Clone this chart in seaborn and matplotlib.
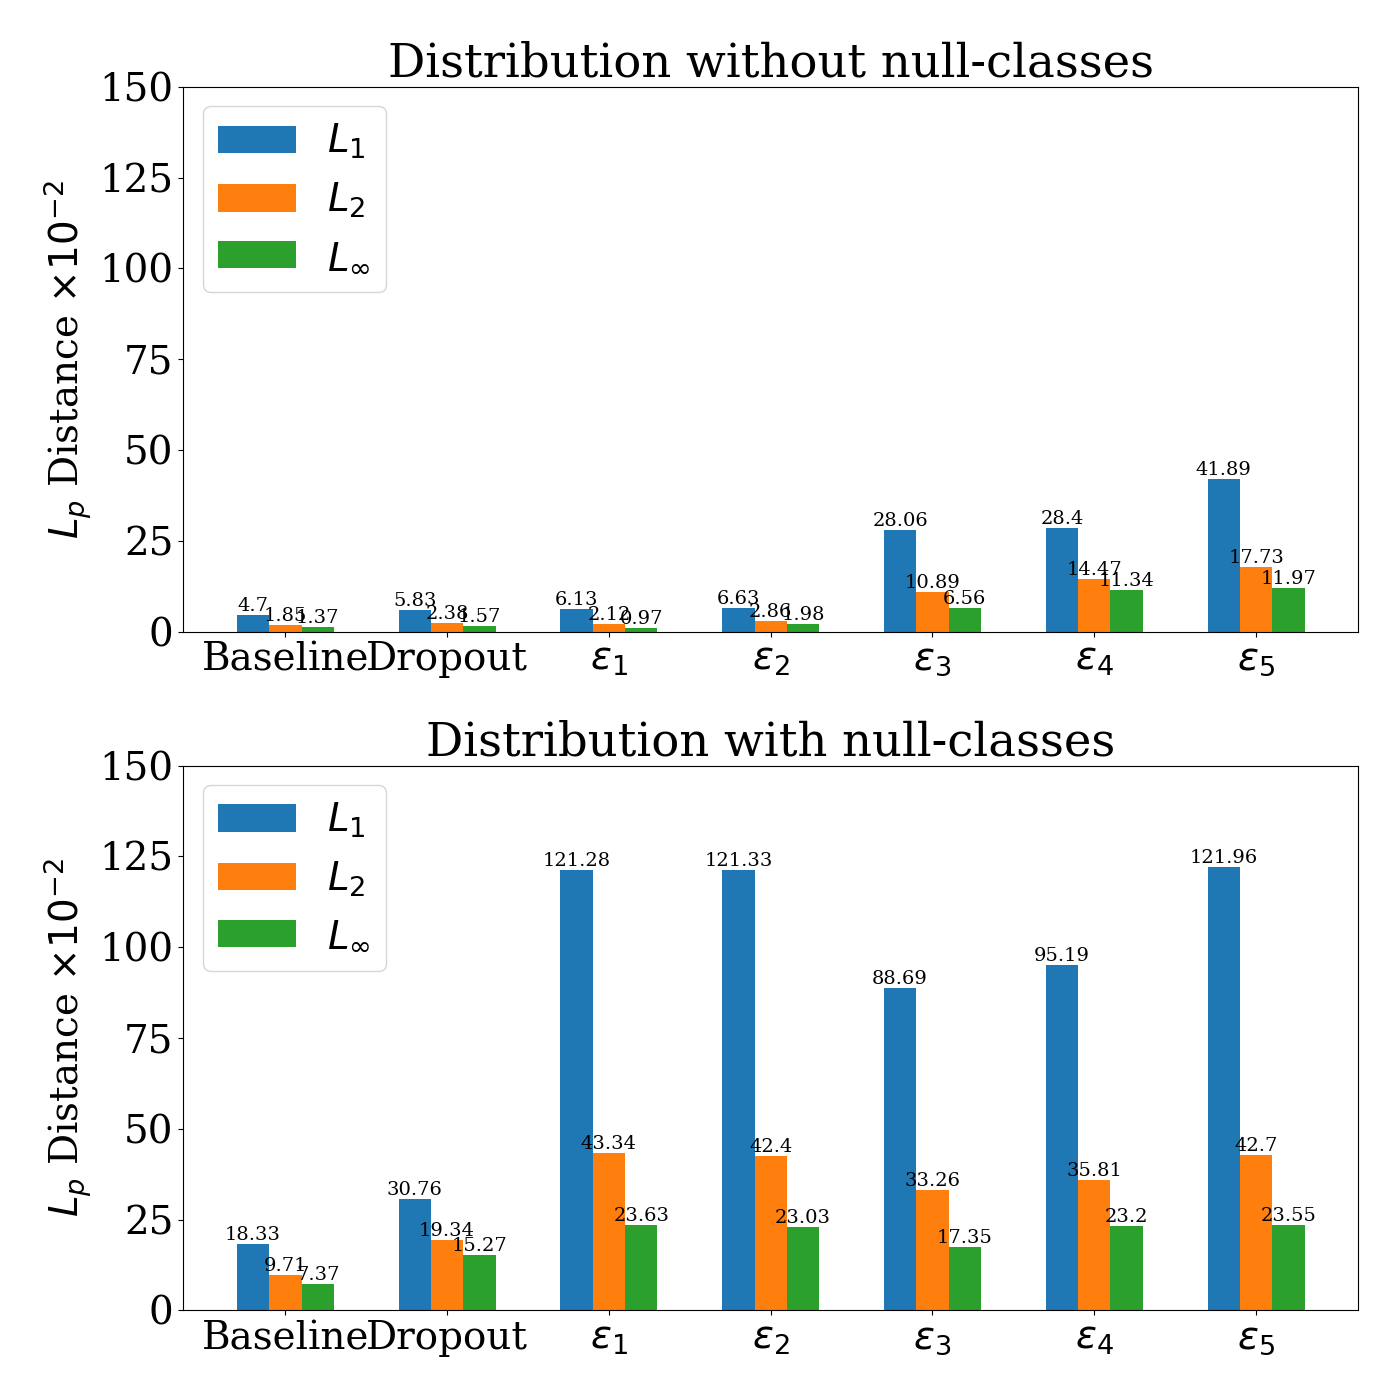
import numpy as np
import pandas as pd
import seaborn as sns
import matplotlib.pyplot as plt

categories = ['Baseline', 'Dropout', r'$\varepsilon_1$', r'$\varepsilon_2$',
              r'$\varepsilon_3$', r'$\varepsilon_4$', r'$\varepsilon_5$']
norms = [r'$L_1$', r'$L_2$', r'$L_\infty$']

# sin clases nulas
no_null_l1 = [4.7, 5.83, 6.13, 6.63, 28.06, 28.4, 41.89]
no_null_l2 = [1.85, 2.38, 2.12, 2.86, 10.89, 14.47, 17.73]
no_null_linf = [1.37, 1.57, 0.97, 1.98, 6.56, 11.34, 11.97]

# con clases nulas
null_l1 = [18.33, 30.76, 121.28, 121.33, 88.69, 95.19, 121.96]
null_l2 = [9.71, 19.34, 43.34, 42.4, 33.26, 35.81, 42.7]
null_linf = [7.37, 15.27, 23.63, 23.03, 17.35, 23.2, 23.55]

plt.rcParams['font.family'] = 'DejaVu Serif'
plt.rcParams['mathtext.fontset'] = 'dejavusans'

colors = ['#1f77b4', '#ff7f0e', '#2ca02c']


def to_long(l1, l2, linf):
    rows = []
    for name, vals in zip(norms, [l1, l2, linf]):
        for cat, v in zip(categories, vals):
            rows.append({'cat': cat, 'norm': name, 'value': v})
    return pd.DataFrame(rows)


def plot_panel(ax, sub_df, title):
    sns.barplot(data=sub_df, x='cat', y='value', hue='norm', order=categories,
                hue_order=norms, palette=colors, width=0.6, errorbar=None,
                saturation=1, ax=ax)
    for container in ax.containers:
        ax.bar_label(container, fontsize=14)
    ax.set_title(title, fontsize=33.5)
    ax.set_xlabel('')
    ax.set_ylabel(r'$L_p$ Distance $\times10^{-2}$', fontsize=28)
    ax.set_ylim(0, 150)
    ax.set_yticks(np.arange(0, 151, 25))
    ax.set_xlim(-0.63, 6.63)
    ax.tick_params(axis='both', labelsize=28)
    ax.legend(loc='upper left', fontsize=28, title=None)


fig, axes = plt.subplots(2, 1, figsize=(14, 14))
plot_panel(axes[0], to_long(no_null_l1, no_null_l2, no_null_linf),
           'Distribution without null-classes')
plot_panel(axes[1], to_long(null_l1, null_l2, null_linf),
           'Distribution with null-classes')
plt.subplots_adjust(left=0.131, right=0.970, top=0.938, bottom=0.064, hspace=0.246)
plt.savefig('out.png', dpi=100)
